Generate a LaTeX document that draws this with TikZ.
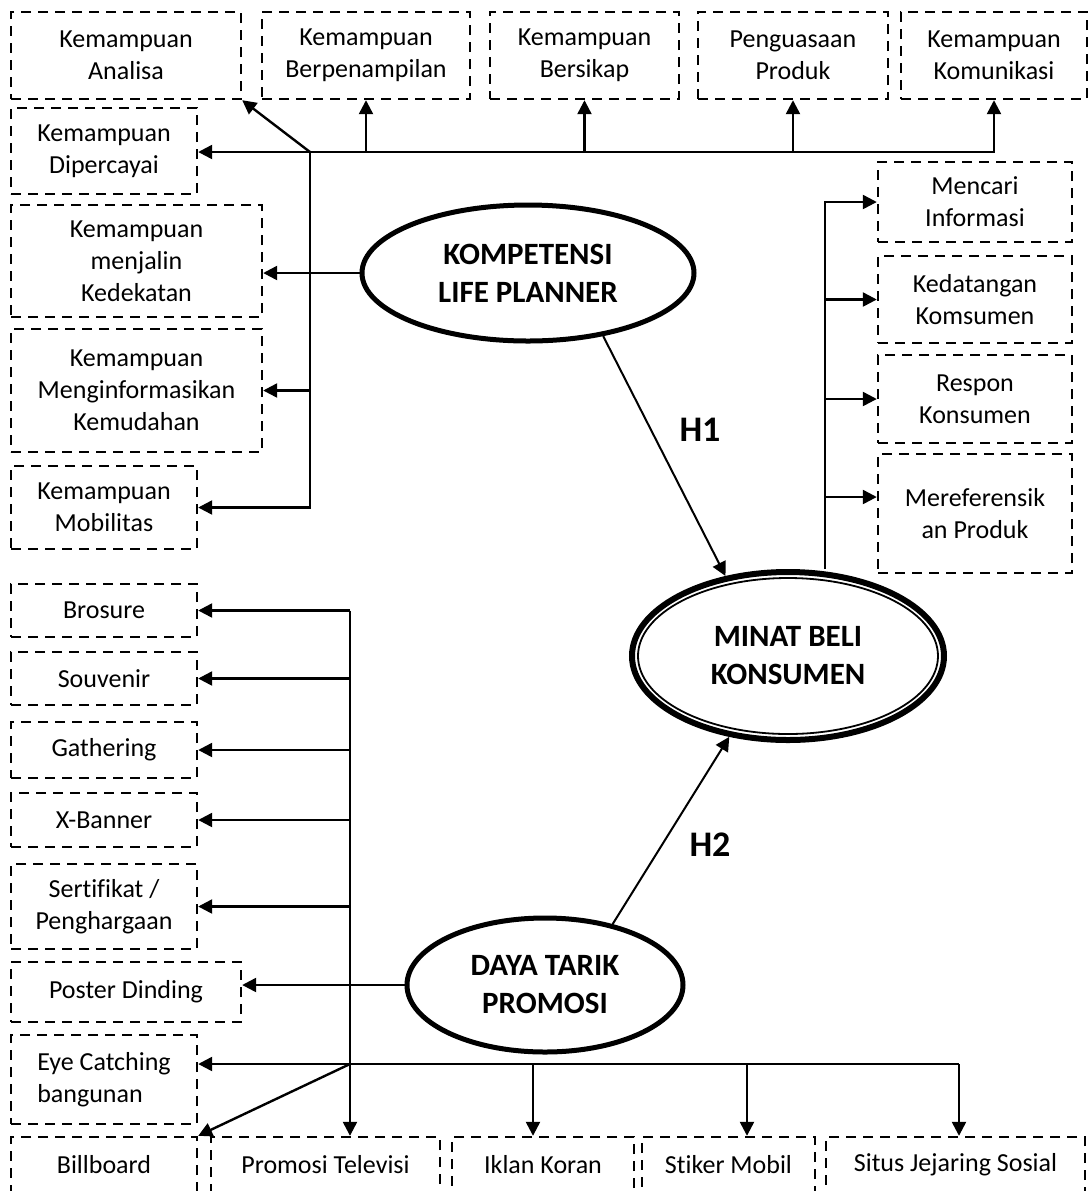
\documentclass[tikz,border=0pt]{standalone}
\usepackage{fontspec}
\setmainfont{Carlito}[Ligatures=NoCommon]
\usetikzlibrary{arrows.meta,shapes.geometric}

\begin{document}
\begin{tikzpicture}[x=0.5pt,y=-0.5pt,>={Triangle[length=7pt,width=7pt]},line width=1.2pt,
 box/.style={draw,dash pattern=on 5pt off 3.5pt,align=center,inner sep=0pt,
 font=\fontsize{13}{15.9}\selectfont},
 var/.style={draw,ellipse,line width=2.5pt,align=center,inner sep=0pt,
 font=\fontsize{15.5}{19}\selectfont\bfseries},
 hyp/.style={font=\fontsize{18}{20}\selectfont\bfseries}]
\useasboundingbox (0,0) rectangle (1089,1191);
\node[box,minimum width=115pt,minimum height=43.5pt] (analisa) at (126,55.5) {Kemampuan\\Analisa};
\node[box,minimum width=104pt,minimum height=43.5pt] (berpen) at (366,55.5) {Kemampuan\\Berpenampilan};
\node[box,minimum width=94.5pt,minimum height=43.5pt] (sikap) at (584.5,55.5) {Kemampuan\\Bersikap};
\node[box,minimum width=95pt,minimum height=43.5pt] (produk) at (793,55.5) {Penguasaan\\Produk};
\node[box,minimum width=93pt,minimum height=43.5pt] (komun) at (994,55.5) {Kemampuan\\Komunikasi};
\node[box,minimum width=93pt,minimum height=43pt] (percaya) at (104,151) {Kemampuan\\Dipercayai};
\node[box,minimum width=125.5pt,minimum height=56pt] (dekat) at (136.5,261) {Kemampuan\\menjalin\\Kedekatan};
\node[box,minimum width=125.5pt,minimum height=61.5pt] (mudah) at (136.5,390.5) {Kemampuan\\Menginformasikan\\Kemudahan};
\node[box,minimum width=93pt,minimum height=41.5pt] (mobil) at (104,507.5) {Kemampuan\\Mobilitas};
\node[var,minimum width=166pt,minimum height=68pt] (komp) at (528,273) {KOMPETENSI\\LIFE PLANNER};
\coordinate (khub) at (310,152);
\draw[->] (khub) -- (analisa.south east);
\draw[->] (khub) -- (khub -| percaya.east);
\draw[->] (khub) -| (komun.south);
\draw[->] (khub -| berpen.south) -- (berpen.south);
\draw[->] (khub -| sikap.south) -- (sikap.south);
\draw[->] (khub -| produk.south) -- (produk.south);
\draw[->] (khub) |- (mobil.east);
\draw[->] (mudah.east -| khub) -- (mudah.east);
\draw[->] (komp.west) -- (komp.west -| dekat.east);

\node[var,line width=3pt,minimum width=156pt,minimum height=84pt] (minat) at (788,656) {MINAT BELI\\KONSUMEN};
\draw[line width=0.9pt] (minat.center) ellipse [x radius=75pt,y radius=39pt];
\node[box,minimum width=97pt,minimum height=40pt] (cari) at (975,202) {Mencari\\Informasi};
\node[box,minimum width=97pt,minimum height=43.5pt] (datang) at (975,299.5) {Kedatangan\\Komsumen};
\node[box,minimum width=97pt,minimum height=44pt] (respon) at (975,399) {Respon\\Konsumen};
\node[box,minimum width=97pt,minimum height=59.5pt] (refer) at (975,513.5) {Mereferensik\\an Produk};
\coordinate (mhub) at (825,497);
\draw[->] (mhub |- minat.north) |- (cari.west);
\draw[->] (datang.west -| mhub) -- (datang.west);
\draw[->] (respon.west -| mhub) -- (respon.west);
\draw[->] (mhub) -- (mhub -| refer.west);

\node[var,minimum width=138pt,minimum height=67pt] (daya) at (545,985) {DAYA TARIK\\PROMOSI};
\node[box,minimum width=93pt,minimum height=26.5pt] (brosur) at (104,610.5) {Brosure};
\node[box,minimum width=93pt,minimum height=26.5pt] (suvenir) at (104,678.5) {Souvenir};
\node[box,minimum width=93pt,minimum height=28pt] (gather) at (104,750) {Gathering};
\node[box,minimum width=93pt,minimum height=27pt] (banner) at (104,820) {X-Banner};
\node[box,minimum width=93pt,minimum height=42.5pt] (sertif) at (104,906.5) {Sertifikat /\\Penghargaan};
\node[box,minimum width=115pt,minimum height=30pt] (poster) at (126,992) {Poster Dinding};
\node[box,minimum width=93pt,minimum height=44.5pt,align=left] (eye) at (104,1079.5) {Eye Catching\\bangunan};
\node[box,minimum width=93pt,minimum height=28pt] (board) at (104,1165) {Billboard};
\node[box,minimum width=114.5pt,minimum height=28pt] (tv) at (325.5,1165) {Promosi Televisi};
\node[box,minimum width=91pt,minimum height=28pt] (koran) at (543,1165) {Iklan Koran};
\node[box,minimum width=86.5pt,minimum height=28pt] (stiker) at (728.5,1165) {Stiker Mobil};
\node[box,minimum width=129.5pt,minimum height=28pt] (situs) at (955.5,1165) {Situs Jejaring Sosial};
\coordinate (dhub) at (350,1064);
\coordinate (d1) at (533,1064);
\coordinate (d2) at (747,1064);
\coordinate (d3) at (959,1064);
\draw[->] (brosur.east -| dhub) -- (dhub |- tv.north);
\draw[->] (brosur.east -| dhub) -- (brosur.east);
\draw[->] (suvenir.east -| dhub) -- (suvenir.east);
\draw[->] (gather.east -| dhub) -- (gather.east);
\draw[->] (banner.east -| dhub) -- (banner.east);
\draw[->] (sertif.east -| dhub) -- (sertif.east);
\draw[->] (daya.west) -- (daya.west -| poster.east);
\draw[->] (dhub) -- (dhub -| eye.east);
\draw[->] (dhub) -- (board.north east);
\draw (dhub) -- (d3);
\draw[->] (d1) -- (d1 |- koran.north);
\draw[->] (d2) -- (d2 |- stiker.north);
\draw[->] (d3) -- (d3 |- situs.north);

\draw[->,line width=1pt] (komp.-40) -- (minat.128);
\draw[->,line width=1pt] (daya.42) -- (minat.234);
\node[hyp] (h1) at (700,430) {H1};
\node[hyp] (h2) at (710,845) {H2};
\end{tikzpicture}
\end{document}
